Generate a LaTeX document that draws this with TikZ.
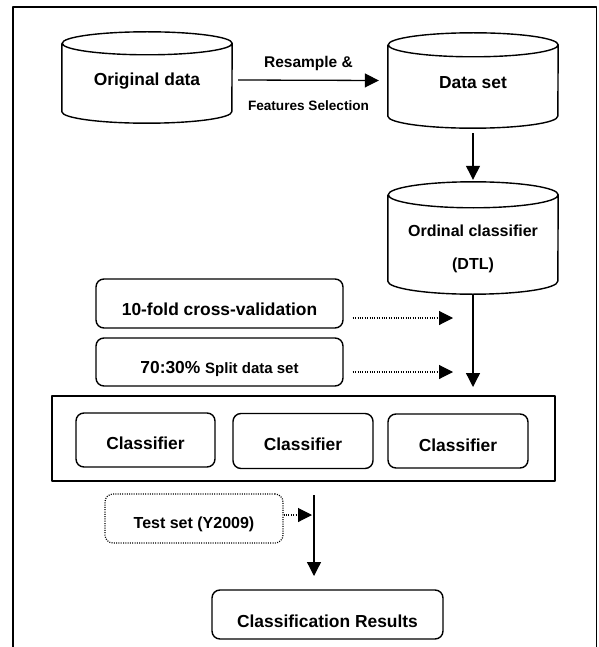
\documentclass[tikz,border=0pt]{standalone}
\usepackage{fontspec}
\setmainfont{Liberation Sans}
\usetikzlibrary{arrows.meta}
\newcommand\fbig{\bfseries\fontsize{17.4}{20}\selectfont}
\newcommand\fmid{\bfseries\fontsize{16}{19}\selectfont}
\newcommand\fsma{\bfseries\fontsize{15.5}{18}\selectfont}
\newcommand\fxsm{\bfseries\fontsize{13.6}{16}\selectfont}
% #1 node name, #2 x radius, #3 y radius
\newcommand\mycyl[3]{%
  \draw[cylline] ([yshift=-#3]#1.north west) -- ([yshift=#3]#1.south west)
    arc[start angle=180,end angle=360,x radius=#2,y radius=#3]
    -- ([yshift=-#3]#1.north east)
    arc[start angle=0,end angle=180,x radius=#2,y radius=#3]
    arc[start angle=180,end angle=360,x radius=#2,y radius=#3];}
\begin{document}
\begin{tikzpicture}[x=1pt,y=-1pt,line join=round,
  cylline/.style={line width=1.4pt},
  cylnode/.style={draw=none,inner sep=0pt,minimum width=170pt,font=\fbig,text depth=0pt},
  rbox/.style={draw,line width=1.4pt,rounded corners=8pt,inner sep=0pt,font=\fbig,text depth=0pt},
  dbox/.style={draw,line width=1.2pt,dash pattern=on 1pt off 1.3pt,rounded corners=8pt,inner sep=0pt,font=\fmid,text depth=0pt},
  lbl/.style={inner sep=0pt,anchor=base},
  arr/.style={line width=1.3pt,-{Triangle[length=14pt,width=14pt]}},
  dotarr/.style={line width=1.1pt,dash pattern=on 1pt off 1.4pt,-{Triangle[length=14pt,width=14pt]}},
  frame/.style={line width=1.4pt}]
\useasboundingbox (0,0) rectangle (598,647);
% outer frame (open at the bottom)
\draw[frame] (13,647) -- (13,7) -- (596.5,7) -- (596.5,647);
% cylinders
\node[cylnode,minimum height=91pt,text height=15.5pt] (orig) at (147,77.5) {Original data};
\mycyl{orig}{85pt}{11.5pt}
\node[cylnode,minimum height=95pt,text height=15.5pt] (data) at (473,80.5) {Data set};
\mycyl{data}{85pt}{12pt}
\node[cylnode,minimum height=112pt] (ord) at (473,238) {};
\mycyl{ord}{85pt}{13pt}
\node[lbl,font=\fmid] (ordA) at (473,236.8) {Ordinal classifier};
\node[lbl,font=\fmid] (ordB) at (473,269.8) {(DTL)};
% validation boxes
\node[rbox,minimum width=247pt,minimum height=49pt,text height=23.5pt] (cv) at (219.5,303.5) {10-fold cross-validation};
\node[rbox,minimum width=247pt,minimum height=48pt,text height=22.5pt] (split) at (219.5,362) {70:30\% {\fsma\fontsize{15}{18}\selectfont Split data set}};
% classifier group
\node[draw,line width=1.5pt,minimum width=503pt,minimum height=85pt,inner sep=0pt] (grp) at (303.5,438.5) {};
\node[rbox,minimum width=139pt,minimum height=54pt,text height=18.5pt] (c1) at (145.5,440) {Classifier};
\node[rbox,minimum width=140pt,minimum height=55pt,text height=18.5pt] (c2) at (303,441) {Classifier};
\node[rbox,minimum width=140pt,minimum height=54pt,text height=20.5pt] (c3) at (458,441) {Classifier};
% test set and results
\node[dbox,minimum width=178pt,minimum height=49pt,text height=20.5pt] (test) at (194,518.5) {Test set (Y2009)};
\node[rbox,minimum width=231pt,minimum height=49pt,text height=25.5pt] (res) at (327.5,614.5) {Classification Results};
% free ends of connectors
\coordinate (t3) at (473,387);
\coordinate (d1) at (453,318);
\coordinate (d2) at (453,372);
\coordinate (v1) at (314,495);
\coordinate (v2) at (314,576);
\coordinate (vt) at (312,515);
% connectors
\draw[arr] ([xshift=6pt,yshift=-2.5pt]orig.east) --
  node[midway,anchor=base,yshift=12.5pt,inner sep=0pt,font=\fsma] (lblA) {Resample \&}
  node[midway,anchor=base,yshift=-30pt,inner sep=0pt,font=\fxsm] (lblB) {Features Selection}
  ([xshift=-9pt]data.west);
\draw[arr] ([yshift=-5pt]data.south) -- ([yshift=2pt]ord.north);
\draw[arr] (ord.south) -- (t3);
\draw[dotarr] ([xshift=9pt,yshift=-14.5pt]cv.east) -- (d1);
\draw[dotarr] ([xshift=9pt,yshift=-10pt]split.east) -- (d2);
\draw[arr] (v1) -- (v2);
\draw[dotarr] ([yshift=3.5pt]test.east) -- (vt);
\end{tikzpicture}
\end{document}
